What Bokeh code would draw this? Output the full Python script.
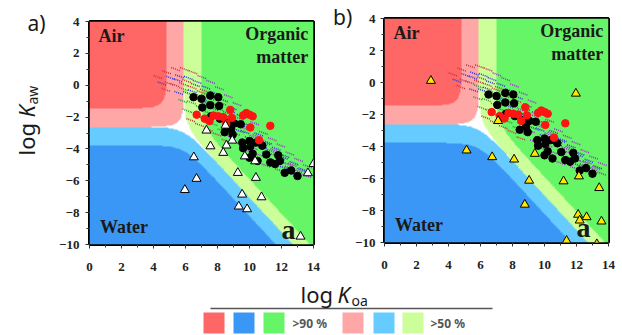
import numpy as np
from bokeh.plotting import figure
from bokeh.models import Range1d, Label, FixedTicker
from bokeh.layouts import column, row
from bokeh.embed import file_html
from bokeh.resources import INLINE

# ---------------- data ----------------
x_ticks = [0, 2, 4, 6, 8, 10, 12, 14]
y_ticks = [-10, -8, -6, -4, -2, 0, 2, 4]
x_minor = list(range(0, 15))
y_minor = list(range(-10, 5))

black_x = [6.5, 7.0, 7.55, 8.05, 7.05, 7.55, 8.1, 7.6, 8.15, 8.6, 9.05, 9.45, 8.45, 8.85, 8.95,
           9.55, 10.0, 10.4, 9.6, 10.05, 10.8, 10.2, 10.0, 10.5, 11.05, 11.3, 11.6, 11.9, 11.8,
           12.2, 12.6, 13.0]
black_y = [-0.75, -0.85, -0.65, -0.75, -1.4, -1.25, -1.3, -1.95, -2.1, -2.35, -2.4, -2.45, -2.95,
           -2.75, -3.1, -3.6, -3.5, -3.6, -3.95, -3.85, -3.8, -4.3, -4.55, -4.75, -4.35, -4.85,
           -4.95, -4.75, -4.4, -5.5, -5.35, -5.7]

red_x = [6.7, 7.2, 7.5, 7.75, 8.05, 8.35, 8.8, 8.9, 8.55, 9.6, 9.8, 10.0, 10.2, 10.05, 11.3, 10.6]
red_y = [-1.85, -2.1, -2.25, -1.9, -1.95, -2.0, -1.55, -2.05, -2.4, -1.9, -1.75, -1.85, -1.95,
         -2.65, -2.55, -3.45]

tri_a_x = [7.31, 8.5, 7.56, 8.56, 8.92, 8.36, 9.71, 10.35, 9.27, 10.4, 9.54, 10.75, 9.33, 9.85,
           13.65, 14.0, 13.19, 6.52, 6.69, 5.96]
tri_a_y = [-2.84, -2.53, -3.83, -3.78, -3.47, -4.24, -4.46, -4.77, -5.5, -5.81, -6.86, -7.03,
           -7.61, -7.78, -5.52, -4.94, -9.5, -4.52, -5.87, -6.57]

tri_b_x = [2.9, 11.96, 7.1, 5.13, 6.73, 8.1, 9.4, 9.04, 11.19, 12.15, 13.42, 8.77, 12.1, 12.63,
           12.2, 13.56, 11.38, 13.27]
tri_b_y = [0.11, -0.69, -2.4, -4.24, -4.66, -4.81, -4.45, -6.13, -6.17, -5.86, -6.59, -7.63,
           -8.26, -8.41, -8.62, -8.68, -9.89, -10.1]

cloud_purple_x = [7.05, 7.6, 8.15, 8.7, 9.25, 9.8, 10.35, 10.9, 11.45, 12.0, 12.55, 13.1, 13.65,
                  8.65, 9.2, 9.75, 10.3, 10.85, 11.4, 11.95, 12.5, 13.05, 13.6,
                  8.6, 9.15, 9.7, 10.25, 10.8, 11.35, 11.9,
                  8.85, 9.4, 9.95, 10.5, 11.05,
                  9.4, 10.5, 11.6, 12.7, 13.25,
                  9.2, 10.3, 11.4, 12.5]
cloud_purple_y = [0.5, 0.2, -0.2, -0.7, -1.2, -1.8, -2.4, -3.0, -3.4, -3.8, -4.3, -4.7, -5.1,
                  -1.75, -2.25, -2.75, -3.25, -3.7, -4.15, -4.6, -5.0, -5.4, -5.7,
                  -2.6, -3.05, -3.5, -3.95, -4.45, -4.9, -5.35,
                  -3.25, -3.7, -4.15, -4.6, -5.05,
                  -2.1, -3.2, -4.1, -5.0, -5.35,
                  -2.45, -3.42, -4.33, -5.2]
cloud_blue_x = [4.55, 5.1, 5.65, 6.2, 6.75, 7.3, 7.85, 8.4, 8.95, 9.5, 10.05, 10.6, 11.15, 11.7,
                12.25, 12.8, 13.35,
                5.6, 6.15, 6.7, 7.25, 7.8, 8.35, 8.9, 9.45, 10.0, 10.55, 11.1, 11.65, 12.2, 12.75,
                5.55, 6.65, 7.75, 8.85, 9.95, 11.05, 12.15,
                6.45, 7.55, 8.65, 9.75, 10.85, 11.95]
cloud_blue_y = [0.1, 0.45, 0.55, 0.45, 0.2, -0.15, -0.5, -0.95, -1.45, -1.95, -2.55, -3.1, -3.6,
                -4.0, -4.45, -4.9, -5.3,
                -0.5, -0.5, -0.8, -1.1, -1.5, -1.95, -2.4, -2.9, -3.35, -3.8, -4.3, -4.75, -5.2,
                -5.6,
                0.3, 0.0, -0.7, -1.65, -2.7, -3.65, -4.55,
                -0.4, -1.08, -1.98, -2.95, -3.88, -4.8]
cloud_red_x = [4.3, 4.85, 5.4, 5.95, 6.5, 4.8, 5.35, 5.9, 6.45, 7.0, 7.55, 8.1,
               6.35, 6.9, 7.45, 8.0, 8.55, 5.0, 6.1, 7.2, 8.3]
cloud_red_y = [0.5, 0.8, 1.0, 1.0, 0.8, -0.3, 0.0, 0.05, -0.15, -0.45, -0.85, -1.3,
               -2.2, -2.5, -2.8, -3.1, -3.5, 0.1, 0.25, -0.35, -1.15]
cloud_green_x = [5.85, 6.4, 6.95, 7.5, 8.05, 6.1, 6.65, 7.2, 7.75, 8.3, 5.9, 7.0, 8.1, 12.5]
cloud_green_y = [-1.0, -1.1, -1.4, -1.75, -2.15, -1.6, -1.8, -2.1, -2.45, -2.85, -0.25, -0.7,
                 -1.5, -5.2]

# three-phase partitioning boundaries (50 % lines) and steepness
KOA_50 = 5.9
KAW_50 = -2.62
SLOPE_OA = 0.89
SLOPE_AW = 0.822

legend_labels = [">90 %", ">50 %"]

# ---------------- styles ----------------
C_AIR90, C_WAT90, C_ORG90 = "#ff6666", "#3a97f5", "#66f566"
C_AIR50, C_WAT50, C_ORG50 = "#ffa6a6", "#66ccff", "#ccff99"
SERIF = "Liberation Serif"
SANS = "Noto Sans"
INK = "#1a1a1a"


def to_u32(h):
    r, g, b = int(h[1:3], 16), int(h[3:5], 16), int(h[5:7], 16)
    return np.uint32((255 << 24) | (b << 16) | (g << 8) | r)


def background():
    n = 560
    gx = np.linspace(0, 14, n)
    gy = np.linspace(-10, 4, n)
    X, Y = np.meshgrid(gx, gy)
    org = 10 ** (SLOPE_OA * (X - KOA_50))
    wat = 10 ** (SLOPE_AW * (KAW_50 - Y))
    tot = 1 + org + wat
    fa, fo, fw = 1 / tot, org / tot, wat / tot
    img = np.full((n, n), to_u32("#ffffff"), dtype=np.uint32)
    img[fa > 0.5] = to_u32(C_AIR50)
    img[fw > 0.5] = to_u32(C_WAT50)
    img[fo > 0.5] = to_u32(C_ORG50)
    img[fa > 0.9] = to_u32(C_AIR90)
    img[fw > 0.9] = to_u32(C_WAT90)
    img[fo > 0.9] = to_u32(C_ORG90)
    return img


BG = background()


def blank(w, h, yr):
    f = figure(width=w, height=h, x_range=Range1d(0, w), y_range=yr, title=None,
               x_axis_location=None, y_axis_location=None, frame_align=False,
               output_backend="svg", toolbar_location=None, min_border=0)
    f.grid.visible = False
    f.outline_line_color = None
    return f


def panel(tri_x, tri_y, tri_fill, left, top, right, bottom, fh, ystand):
    p = figure(frame_width=224, frame_height=fh, x_range=Range1d(0, 14), y_range=Range1d(-10, 4),
               output_backend="svg", toolbar_location=None, title=None, frame_align=False,
               min_border_left=left, min_border_top=top, min_border_right=right,
               min_border_bottom=bottom)
    p.image_rgba(image=[BG], x=0, y=-10, dw=14, dh=14)
    for xs, ys, col in [(cloud_purple_x, cloud_purple_y, "#9b35d0"),
                        (cloud_blue_x, cloud_blue_y, "#3a3ad8"),
                        (cloud_red_x, cloud_red_y, "#c8343c"),
                        (cloud_green_x, cloud_green_y, "#2f9a3a")]:
        p.scatter(xs, ys, marker="dash", size=10, angle=-0.35, line_color=col,
                  line_width=1.6, line_dash="1 1")
    p.scatter(black_x, black_y, marker="circle", size=7.5, fill_color="black", line_color="black")
    p.scatter(red_x, red_y, marker="circle", size=7.5, fill_color="#ff1414", line_color="#ff1414")
    p.scatter(tri_x, tri_y, marker="triangle", size=9, fill_color=tri_fill, line_color="black",
              line_width=1)

    txt = dict(text_font=SERIF, text_font_style="bold", text_color=INK,
               text_baseline="alphabetic")
    p.add_layout(Label(x=0.56, y=3.11, text="Air", text_font_size="18px", **txt))
    p.add_layout(Label(x=13.67, y=3.2, text="Organic", text_align="right",
                       text_font_size="18px", **txt))
    p.add_layout(Label(x=13.67, y=1.76, text="matter", text_align="right",
                       text_font_size="18px", **txt))
    p.add_layout(Label(x=0.65, y=-8.89, text="Water", text_font_size="18px", **txt))
    p.add_layout(Label(x=12.0, y=-9.08, text="a", text_font_size="28px", **txt))

    p.xaxis.ticker = FixedTicker(ticks=x_ticks, minor_ticks=x_minor)
    p.yaxis.ticker = FixedTicker(ticks=y_ticks, minor_ticks=y_minor)
    p.grid.visible = False
    p.axis.axis_line_color = None
    p.axis.major_tick_in = 0
    p.axis.major_tick_out = 4
    p.axis.minor_tick_in = 0
    p.axis.minor_tick_out = 3
    p.axis.major_tick_line_color = "#333333"
    p.axis.minor_tick_line_color = "#333333"
    p.axis.major_label_text_font = SERIF
    p.axis.major_label_text_font_style = "bold"
    p.axis.major_label_text_font_size = "13px"
    p.axis.major_label_text_color = "#222222"
    p.xaxis.major_label_standoff = 14
    p.yaxis.major_label_standoff = ystand
    p.outline_line_color = "black"
    p.outline_line_width = 3
    return p


TOP_H = 279
# left strip: panel tag and rotated y title
fy = blank(56, TOP_H, Range1d(0, TOP_H))
fy.add_layout(Label(x=27, y=TOP_H - 22, text="a)", text_font=SANS, text_font_size="21px",
                    text_color=INK, text_baseline="alphabetic"))
rot = np.pi / 2
fy.add_layout(Label(x=25, y=TOP_H - 155, text="log", angle=rot, text_font=SANS,
                    text_font_size="22px", text_color=INK, text_baseline="alphabetic"))
fy.add_layout(Label(x=25, y=TOP_H - 117, text="K", angle=rot, text_font=SANS,
                    text_font_style="italic", text_font_size="22px", text_color=INK,
                    text_baseline="alphabetic"))
fy.add_layout(Label(x=32, y=TOP_H - 104, text="aw", angle=rot, text_font=SANS,
                    text_font_size="14px", text_color=INK, text_baseline="alphabetic"))

fa = panel(tri_a_x, tri_a_y, "white", 33, 21, 17, TOP_H - 21 - 223, 223, 6)

fs = blank(22, TOP_H, Range1d(0, TOP_H))
fs.add_layout(Label(x=2.5, y=TOP_H - 16, text="b)", text_font=SANS, text_font_size="21px",
                    text_color=INK, text_baseline="alphabetic"))

fb = panel(tri_b_x, tri_b_y, "#ffe800", 31, 18, 15, TOP_H - 18 - 224, 224, 5)

# bottom strip: x title + legend (y measured downward from the strip top)
BOT_H = 335 - TOP_H
fl = blank(622, BOT_H, Range1d(BOT_H, 0))
fl.add_layout(Label(x=300, y=14, text="log", text_font=SANS, text_font_size="22px",
                    text_color=INK, text_baseline="alphabetic"))
fl.add_layout(Label(x=337, y=14, text="K", text_font=SANS, text_font_style="italic",
                    text_font_size="22px", text_color=INK, text_baseline="alphabetic"))
fl.add_layout(Label(x=351, y=21, text="oa", text_font=SANS, text_font_size="14px",
                    text_color=INK, text_baseline="alphabetic"))
fl.segment(x0=[210], y0=[29], x1=[492], y1=[29], line_color="#555555", line_width=1.5)
sw_x = [213.5, 243.5, 273.5, 352.5, 383.5, 412.5]
sw_c = [C_AIR90, C_WAT90, C_ORG90, C_AIR50, C_WAT50, C_ORG50]
fl.rect(x=sw_x, y=[43.5] * 6, width=21, height=21, fill_color=sw_c, line_color=None)
for lx, lab in zip([292, 430], legend_labels):
    fl.add_layout(Label(x=lx, y=43.5, text=lab, text_font=SANS, text_font_style="bold",
                        text_font_size="12px", text_color="#555555", text_baseline="middle"))

layout = column(row(fy, fa, fs, fb), fl)
open("out.html", "w").write(file_html(layout, INLINE))
